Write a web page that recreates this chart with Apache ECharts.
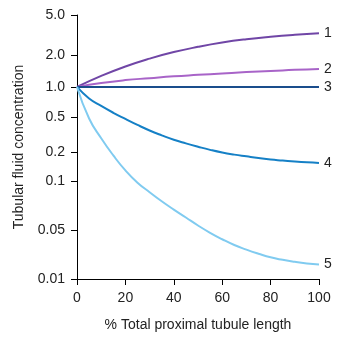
<!DOCTYPE html>
<html>
<head>
<meta charset="utf-8">
<script src="https://cdn.jsdelivr.net/npm/echarts@6/dist/echarts.min.js"></script>
<style>html,body{margin:0;padding:0;background:#fff}#c{width:342px;height:338px}</style>
</head>
<body>
<div id="c"></div>
<script>
// x positions (% of total proximal tubule length)
const xs10 = [0, 10, 20, 30, 40, 50, 60, 70, 80, 90, 100];
const xs5 = [0, 5, 10, 15, 20, 25, 30, 35, 40, 45, 50, 55, 60, 65, 70, 75, 80, 85, 90, 95, 100];
// series values (TF/P concentration ratio)
const curve1 = [1.0, 1.27, 1.56, 1.85, 2.14, 2.41, 2.66, 2.87, 3.04, 3.18, 3.29];
const curve2 = [1.0, 1.09, 1.16, 1.21, 1.26, 1.30, 1.34, 1.38, 1.41, 1.45, 1.48];
const curve3 = [1.0, 1.0, 1.0, 1.0, 1.0, 1.0, 1.0, 1.0, 1.0, 1.0, 1.0];
const curve4 = [1.0, 0.767, 0.645, 0.551, 0.475, 0.406, 0.351, 0.309, 0.275, 0.250, 0.229,
                0.211, 0.197, 0.1875, 0.180, 0.173, 0.167, 0.163, 0.159, 0.157, 0.154];
const curve5 = [1.0, 0.481, 0.286, 0.184, 0.129, 0.098, 0.0856, 0.0753, 0.0669, 0.0598, 0.0534,
                0.0458, 0.0370, 0.0306, 0.0263, 0.0230, 0.0204, 0.0188, 0.0176, 0.0167, 0.0161];
const seriesNames = ['1', '2', '3', '4', '5'];
// y tick labels and the axis's own (non-uniform, log-like) scale stops
const yTickValues = [0.01, 0.05, 0.1, 0.2, 0.5, 1, 2, 5];
const yTickLabels = ['0.01', '0.05', '0.1', '0.2', '0.5', '1.0', '2.0', '5.0'];
const yScaleStops = [-2, -1.5, -1.0, -0.70, -0.343, -0.036, 0.291, 0.70];

function toScale(v) {
  const lv = Math.log10(v);
  const lt = yTickValues.map(Math.log10);
  let i = 0;
  while (i < lt.length - 2 && lv > lt[i + 1]) i++;
  const t = (lv - lt[i]) / (lt[i + 1] - lt[i]);
  return yScaleStops[i] + t * (yScaleStops[i + 1] - yScaleStops[i]);
}
function pairs(x, y) { return x.map((v, i) => [v, toScale(y[i])]); }

const colors = ['#7046a6', '#a864c8', '#1a4d8c', '#1580c6', '#80cbf0'];
const datasets = [pairs(xs10, curve1), pairs(xs10, curve2), pairs(xs10, curve3), pairs(xs5, curve4), pairs(xs5, curve5)];
const font = 'Liberation Sans, Arial, Helvetica, sans-serif';

const chart = echarts.init(document.getElementById('c'), null, {renderer: 'canvas'});
chart.setOption({
  animation: false,
  grid: {left: 77, right: 23, top: 15, bottom: 59, containLabel: false},
  xAxis: {
    type: 'value', min: 0, max: 100, interval: 20,
    name: '% Total proximal tubule length', nameLocation: 'middle', nameGap: 39,
    nameTextStyle: {fontFamily: font, fontSize: 14, color: '#222'},
    axisLine: {onZero: false, lineStyle: {color: '#000', width: 1}},
    axisTick: {show: true, length: 6, lineStyle: {color: '#000'}},
    axisLabel: {fontFamily: font, fontSize: 14, color: '#222', margin: 12},
    splitLine: {show: false}
  },
  yAxis: {
    type: 'value', min: yScaleStops[0], max: yScaleStops[yScaleStops.length - 1],
    name: 'Tubular fluid concentration', nameLocation: 'middle', nameGap: 51,
    nameTextStyle: {fontFamily: font, fontSize: 14, color: '#222'},
    axisLine: {show: true, onZero: false, lineStyle: {color: '#000', width: 1}},
    axisTick: {show: true, length: 6, lineStyle: {color: '#000'}, customValues: yScaleStops},
    axisLabel: {
      fontFamily: font, fontSize: 14, color: '#222', margin: 12,
      customValues: yScaleStops,
      formatter: function (val) {
        let best = 0;
        yScaleStops.forEach((s, i) => { if (Math.abs(s - val) < Math.abs(yScaleStops[best] - val)) best = i; });
        return yTickLabels[best];
      }
    },
    splitLine: {show: false}
  },
  series: datasets.map((d, i) => ({
    name: seriesNames[i],
    type: 'line',
    data: d,
    smooth: 0.5,
    showSymbol: false,
    symbol: 'none',
    lineStyle: {color: colors[i], width: 2},
    endLabel: {show: true, formatter: '{a}', distance: 5, fontFamily: font, fontSize: 14, color: '#222'}
  }))
});
</script>
</body>
</html>
